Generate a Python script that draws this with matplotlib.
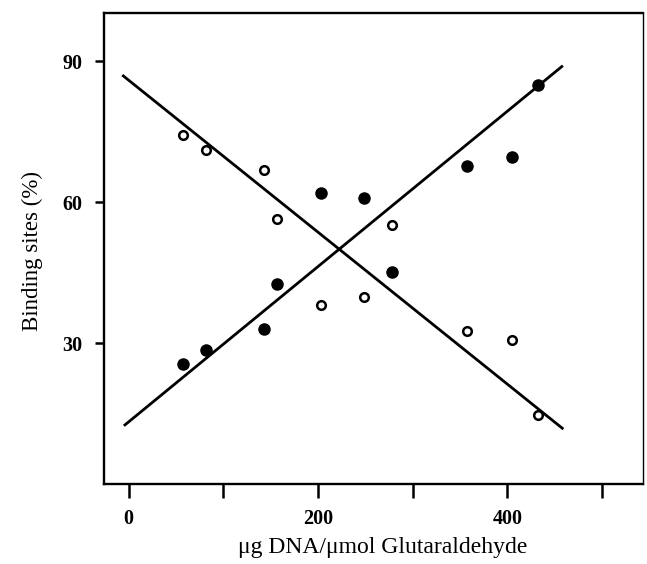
import matplotlib
matplotlib.use('agg')
import matplotlib.pyplot as plt
import numpy as np

# values
dna_ratio = [57, 82, 143, 157, 203, 249, 278, 357, 405, 432]
filled_sites = [25.6, 28.5, 33.1, 42.7, 61.9, 61.0, 45.2, 67.8, 69.6, 85.0]
open_sites = [74.3, 71.2, 66.9, 56.5, 38.1, 39.9, 55.1, 32.5, 30.6, 14.6]

# hand-drawn fit lines (end points)
rise_x = [-5, 458.5]
rise_y = [12.4, 89.1]
fall_x = [-6.7, 459]
fall_y = [87.1, 11.7]

xticks = [0, 100, 200, 300, 400, 500]
xticklabels = ['0', '', '200', '', '400', '']
yticks = [30, 60, 90]

plt.rcParams['font.family'] = ['Liberation Serif', 'DejaVu Serif']

fig = plt.figure(figsize=(6.47, 5.64), dpi=100)
ax = fig.add_axes([0.1607, 0.1418, 0.833, 0.835])

ax.plot(rise_x, rise_y, color='black', lw=2.0, solid_capstyle='butt')
ax.plot(fall_x, fall_y, color='black', lw=2.0, solid_capstyle='butt')

ax.plot(dna_ratio, filled_sites, 'o', color='black', ms=8, zorder=3)
ax.plot(dna_ratio, open_sites, 'o', mfc='white', mec='black', mew=1.8, ms=6.2, zorder=3)

ax.set_xlim(-26, 543)
ax.set_ylim(0, 100.3)
ax.set_xticks(xticks)
ax.set_xticklabels(xticklabels)
ax.set_yticks(yticks)

ax.tick_params(axis='x', direction='out', length=10, width=1.8, pad=8, labelsize=14.5)
ax.tick_params(axis='y', direction='out', length=6.5, width=1.8, pad=9, labelsize=14.5)
for lbl in ax.get_xticklabels() + ax.get_yticklabels():
    lbl.set_fontweight('bold')

for side in ['left', 'bottom', 'top']:
    ax.spines[side].set_linewidth(1.7)
ax.spines['right'].set_linewidth(1.0)

ax.set_xlabel('\u03bcg DNA/\u03bcmol Glutaraldehyde', fontsize=17)
ax.xaxis.set_label_coords(0.517, -0.113)
ax.set_ylabel('Binding sites (%)', fontsize=16.5)
ax.yaxis.set_label_coords(-0.113, 0.495)

fig.savefig('out.png', dpi=100)
